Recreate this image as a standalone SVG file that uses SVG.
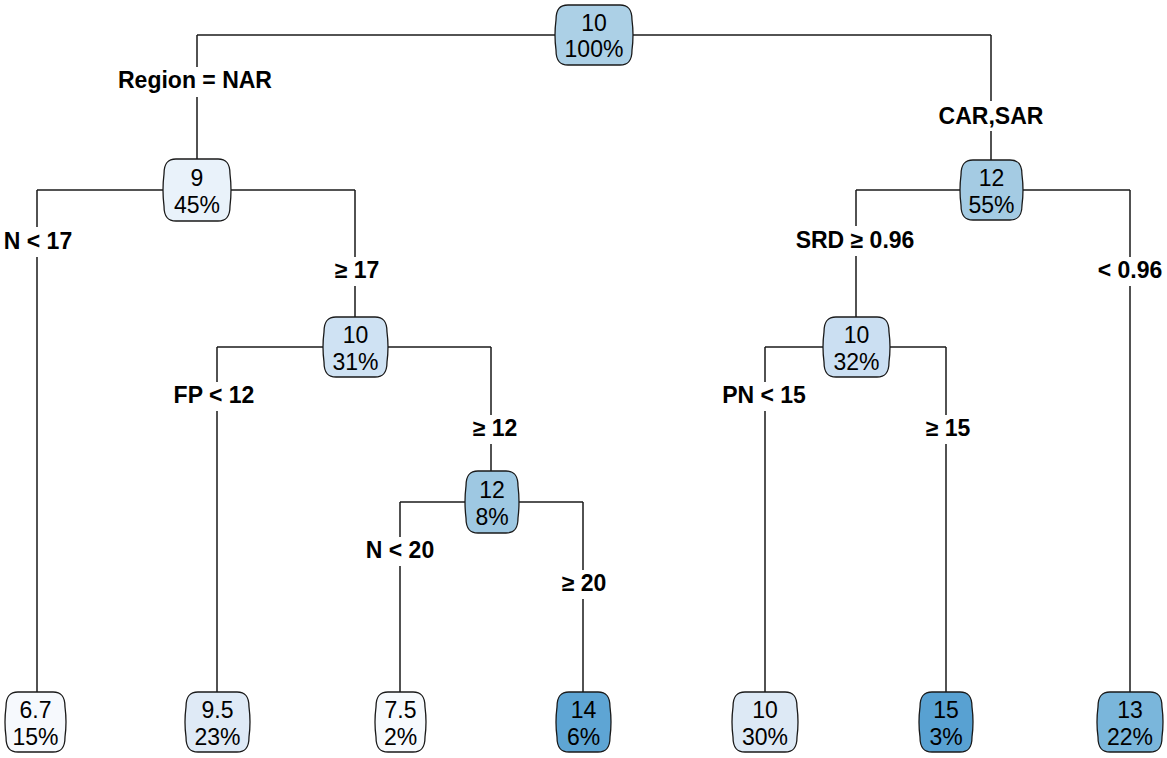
<svg xmlns="http://www.w3.org/2000/svg" width="1167" height="758" viewBox="0 0 1167 758">
<style>
.bg{fill:#ffffff}
.edge{stroke:#1a1a1a;stroke-width:1.5;fill:none}
.box{stroke:#1a1a1a;stroke-width:1.3}
.nt{font-family:"Liberation Sans",Arial,sans-serif;font-size:23px;fill:#000;text-anchor:middle}
.lab{font-family:"Liberation Sans",Arial,sans-serif;font-size:23px;font-weight:bold;fill:#000;text-anchor:middle}
</style>
<rect class="bg" x="0" y="0" width="1167" height="758"/>
<g id="connectors">
<path class="edge" d="M197 35 H991"/>
<path class="edge" d="M197 35 V67 M197 97 V159"/>
<path class="edge" d="M991 35 V101 M991 131 V160"/>
<path class="edge" d="M37 190 H355"/>
<path class="edge" d="M37 190 V227 M37 257 V692"/>
<path class="edge" d="M355 190 V257 M355 286 V317"/>
<path class="edge" d="M856 190 H1130"/>
<path class="edge" d="M856 190 V226 M856 256 V317"/>
<path class="edge" d="M1130 190 V257 M1130 286 V692"/>
<path class="edge" d="M217 347 H491"/>
<path class="edge" d="M217 347 V382 M217 411 V692"/>
<path class="edge" d="M491 347 V415 M491 444 V471"/>
<path class="edge" d="M765 347 H946"/>
<path class="edge" d="M765 347 V382 M765 411 V692"/>
<path class="edge" d="M946 347 V415 M946 444 V692"/>
<path class="edge" d="M400 502 H583"/>
<path class="edge" d="M400 502 V537 M400 566 V692"/>
<path class="edge" d="M583 502 V570 M583 599 V692"/>
<text class="lab" x="195" y="88">Region = NAR</text>
<text class="lab" x="991" y="124">CAR,SAR</text>
<text class="lab" x="38" y="249">N &lt; 17</text>
<text class="lab" x="357" y="278">≥ 17</text>
<text class="lab" x="855" y="248">SRD ≥ 0.96</text>
<text class="lab" x="1130" y="278">&lt; 0.96</text>
<text class="lab" x="214" y="403">FP &lt; 12</text>
<text class="lab" x="495" y="436">≥ 12</text>
<text class="lab" x="764" y="403">PN &lt; 15</text>
<text class="lab" x="948" y="436">≥ 15</text>
<text class="lab" x="400" y="558">N &lt; 20</text>
<text class="lab" x="584" y="591">≥ 20</text>
</g>
<g id="node-root">
<path class="box" fill="#acd0e6" d="M568 5 H620 C628 5 632 9 632 20 Q634 35 632 50 C632 61 628 65 620 65 H568 C560 65 556 61 556 50 Q554 35 556 20 C556 9 560 5 568 5 Z"/>
<text class="nt" x="594" y="31">10</text><text class="nt" x="594" y="57">100%</text>
</g>
<g id="node-n9">
<path class="box" fill="#e9f2fa" d="M176 159 H218 C226 159 230 163 230 174 Q232 190 230 206 C230 217 226 221 218 221 H176 C168 221 164 217 164 206 Q162 190 164 174 C164 163 168 159 176 159 Z"/>
<text class="nt" x="197" y="186">9</text><text class="nt" x="197" y="213">45%</text>
</g>
<g id="node-n12a">
<path class="box" fill="#a4cbe3" d="M973 160 H1010 C1018 160 1022 164 1022 175 Q1024 190 1022 205 C1022 216 1018 220 1010 220 H973 C965 220 961 216 961 205 Q959 190 961 175 C961 164 965 160 973 160 Z"/>
<text class="nt" x="991.5" y="186">12</text><text class="nt" x="991.5" y="213">55%</text>
</g>
<g id="node-n10a">
<path class="box" fill="#cfe2f3" d="M336 317 H375 C383 317 387 321 387 332 Q389 347 387 362 C387 373 383 377 375 377 H336 C328 377 324 373 324 362 Q322 347 324 332 C324 321 328 317 336 317 Z"/>
<text class="nt" x="355.5" y="343">10</text><text class="nt" x="355.5" y="370">31%</text>
</g>
<g id="node-n10b">
<path class="box" fill="#cbdff2" d="M836 317 H877 C885 317 889 321 889 332 Q891 347 889 362 C889 373 885 377 877 377 H836 C828 377 824 373 824 362 Q822 347 824 332 C824 321 828 317 836 317 Z"/>
<text class="nt" x="856.5" y="343">10</text><text class="nt" x="856.5" y="370">32%</text>
</g>
<g id="node-n12b">
<path class="box" fill="#9ec8e2" d="M478 471 H506 C514 471 518 475 518 486 Q520 502 518 518 C518 529 514 533 506 533 H478 C470 533 466 529 466 518 Q464 502 466 486 C466 475 470 471 478 471 Z"/>
<text class="nt" x="492" y="498">12</text><text class="nt" x="492" y="525">8%</text>
</g>
<g id="leaf-67">
<path class="box" fill="#f6f9fd" d="M18 692 H53 C61 692 65 696 65 707 Q67 722 65 737 C65 748 61 752 53 752 H18 C10 752 6 748 6 737 Q4 722 6 707 C6 696 10 692 18 692 Z"/>
<text class="nt" x="35.5" y="718">6.7</text><text class="nt" x="35.5" y="745">15%</text>
</g>
<g id="leaf-95">
<path class="box" fill="#dfeaf6" d="M198 692 H237 C245 692 249 696 249 707 Q251 722 249 737 C249 748 245 752 237 752 H198 C190 752 186 748 186 737 Q184 722 186 707 C186 696 190 692 198 692 Z"/>
<text class="nt" x="217.5" y="718">9.5</text><text class="nt" x="217.5" y="745">23%</text>
</g>
<g id="leaf-75">
<path class="box" fill="#f7fafd" d="M388 692 H413 C421 692 425 696 425 707 Q427 722 425 737 C425 748 421 752 413 752 H388 C380 752 376 748 376 737 Q374 722 376 707 C376 696 380 692 388 692 Z"/>
<text class="nt" x="400.5" y="718">7.5</text><text class="nt" x="400.5" y="745">2%</text>
</g>
<g id="leaf-14">
<path class="box" fill="#5ea5d4" d="M569 692 H598 C606 692 610 696 610 707 Q612 722 610 737 C610 748 606 752 598 752 H569 C561 752 557 748 557 737 Q555 722 557 707 C557 696 561 692 569 692 Z"/>
<text class="nt" x="583.5" y="718">14</text><text class="nt" x="583.5" y="745">6%</text>
</g>
<g id="leaf-10">
<path class="box" fill="#dde9f5" d="M745 692 H785 C793 692 797 696 797 707 Q799 722 797 737 C797 748 793 752 785 752 H745 C737 752 733 748 733 737 Q731 722 733 707 C733 696 737 692 745 692 Z"/>
<text class="nt" x="765" y="718">10</text><text class="nt" x="765" y="745">30%</text>
</g>
<g id="leaf-15">
<path class="box" fill="#58a1d2" d="M932 692 H960 C968 692 972 696 972 707 Q974 722 972 737 C972 748 968 752 960 752 H932 C924 752 920 748 920 737 Q918 722 920 707 C920 696 924 692 932 692 Z"/>
<text class="nt" x="946" y="718">15</text><text class="nt" x="946" y="745">3%</text>
</g>
<g id="leaf-13">
<path class="box" fill="#7ab6db" d="M1110 692 H1150 C1158 692 1162 696 1162 707 Q1164 722 1162 737 C1162 748 1158 752 1150 752 H1110 C1102 752 1098 748 1098 737 Q1096 722 1098 707 C1098 696 1102 692 1110 692 Z"/>
<text class="nt" x="1130" y="718">13</text><text class="nt" x="1130" y="745">22%</text>
</g>
</svg>
